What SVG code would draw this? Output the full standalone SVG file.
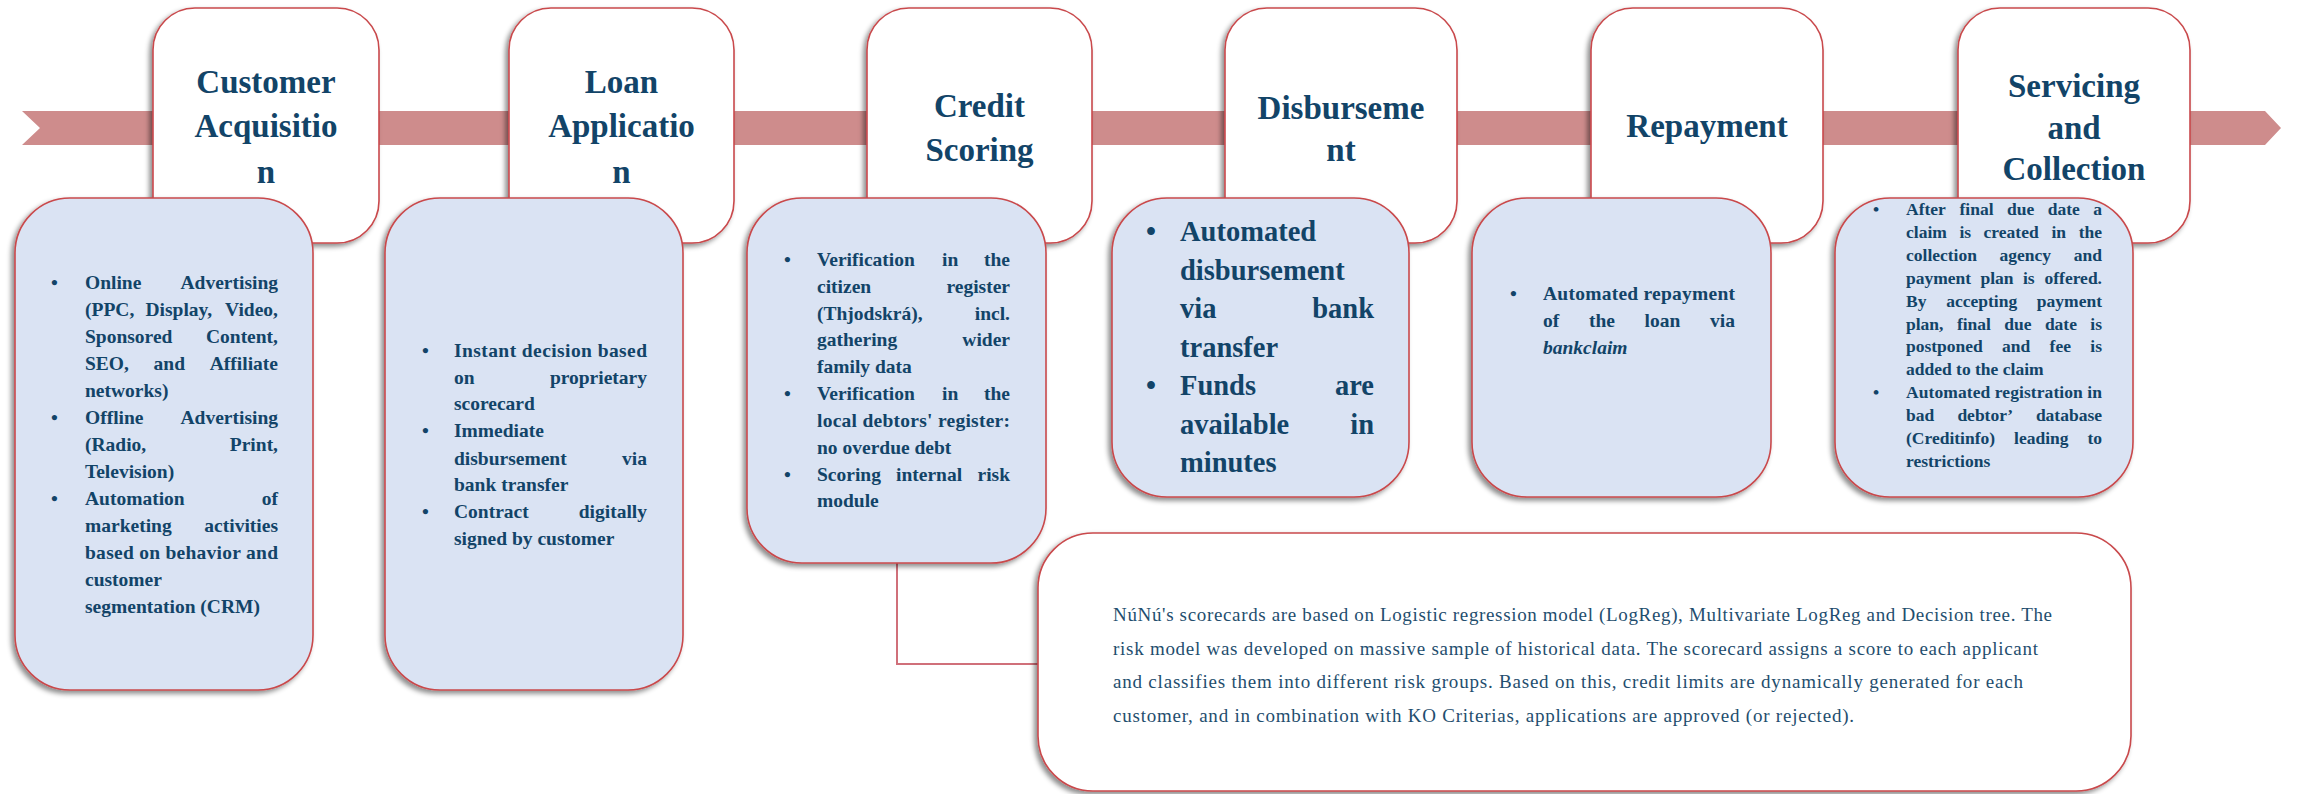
<svg xmlns="http://www.w3.org/2000/svg" width="2301" height="794" viewBox="0 0 2301 794">
<defs>
<filter id="sh" x="-10%" y="-10%" width="120%" height="120%">
<feDropShadow dx="-3" dy="3" stdDeviation="2.5" flood-color="#000" flood-opacity="0.45"/>
</filter>
</defs>
<style>
.top{fill:#fff;stroke:#C9494C;stroke-width:1.6;filter:url(#sh)}
.det{fill:#DAE3F3;stroke:#C9494C;stroke-width:1.6;filter:url(#sh)}
.title{font-family:"Liberation Serif","Times New Roman",serif;font-weight:bold;font-size:33px;fill:#124468;text-anchor:middle}
.b{font-family:"Liberation Serif","Times New Roman",serif;font-weight:bold;font-size:19.5px;fill:#124468}
.s6{font-size:17.5px}
.s4{font-size:28.5px}
.e{text-anchor:end}
.note{font-family:"Liberation Serif","Times New Roman",serif;font-size:19px;fill:#1F4E6E}
.conn{fill:none;stroke:#D0707A;stroke-width:2}
</style>
<g id="banner">
<polygon points="22,111 2265,111 2281,128 2265,145 22,145 40,128" fill="#CE8C8C"/>
</g>
<g id="stage-customer-acquisition">
<rect class="top" x="153" y="8" width="226" height="235" rx="42"/>
<text class="title" x="266" y="93">Customer</text>
<text class="title" x="266" y="137">Acquisitio</text>
<text class="title" x="266" y="183">n</text>
</g>
<g id="stage-loan-application">
<rect class="top" x="509" y="8" width="225" height="235" rx="42"/>
<text class="title" x="621.5" y="93">Loan</text>
<text class="title" x="621.5" y="137">Applicatio</text>
<text class="title" x="621.5" y="183">n</text>
</g>
<g id="stage-credit-scoring">
<rect class="top" x="867" y="8" width="225" height="235" rx="42"/>
<text class="title" x="979.5" y="117">Credit</text>
<text class="title" x="979.5" y="161">Scoring</text>
</g>
<g id="stage-disbursement">
<rect class="top" x="1225" y="8" width="232" height="235" rx="42"/>
<text class="title" x="1341" y="119">Disburseme</text>
<text class="title" x="1341" y="161">nt</text>
</g>
<g id="stage-repayment">
<rect class="top" x="1591" y="8" width="232" height="235" rx="42"/>
<text class="title" x="1707" y="137">Repayment</text>
</g>
<g id="stage-servicing-collection">
<rect class="top" x="1958" y="8" width="232" height="235" rx="42"/>
<text class="title" x="2074" y="97">Servicing</text>
<text class="title" x="2074" y="139">and</text>
<text class="title" x="2074" y="180">Collection</text>
</g>
<g id="connectors">
<polyline class="conn" points="897,563 897,664 1038,664"/>
</g>
<g id="detail-customer-acquisition">
<rect class="det" x="15" y="198" width="298" height="492" rx="55"/>
<g class="b">
<text x="51" y="289">•</text><text x="51" y="424">•</text><text x="51" y="505">•</text>
<text x="85" y="289">Online</text><text class="e" x="278" y="289">Advertising</text>
<text x="85" y="316">(PPC,</text><text x="145.5" y="316">Display,</text><text class="e" x="278" y="316">Video,</text>
<text x="85" y="343">Sponsored</text><text class="e" x="278" y="343">Content,</text>
<text x="85" y="370">SEO,</text><text x="153.6" y="370">and</text><text class="e" x="278" y="370">Affiliate</text>
<text x="85" y="397">networks)</text>
<text x="85" y="424">Offline</text><text class="e" x="278" y="424">Advertising</text>
<text x="85" y="451">(Radio,</text><text class="e" x="278" y="451">Print,</text>
<text x="85" y="478">Television)</text>
<text x="85" y="505">Automation</text><text class="e" x="278" y="505">of</text>
<text x="85" y="532">marketing</text><text class="e" x="278" y="532">activities</text>
<text x="85" y="559" textLength="193" lengthAdjust="spacing">based on behavior and</text>
<text x="85" y="586">customer</text>
<text x="85" y="613">segmentation (CRM)</text>
</g>
</g>
<g id="detail-loan-application">
<rect class="det" x="385" y="198" width="298" height="492" rx="55"/>
<g class="b">
<text x="422" y="357">•</text><text x="422" y="437">•</text><text x="422" y="518">•</text>
<text x="454" y="357" textLength="193" lengthAdjust="spacing">Instant decision based</text>
<text x="454" y="384">on</text><text class="e" x="647" y="384">proprietary</text>
<text x="454" y="410">scorecard</text>
<text x="454" y="437">Immediate</text>
<text x="454" y="465">disbursement</text><text class="e" x="647" y="465">via</text>
<text x="454" y="491">bank transfer</text>
<text x="454" y="518">Contract</text><text class="e" x="647" y="518">digitally</text>
<text x="454" y="545">signed by customer</text>
</g>
</g>
<g id="detail-credit-scoring">
<rect class="det" x="747" y="198" width="299" height="365" rx="55"/>
<g class="b">
<text x="784" y="266">•</text><text x="784" y="400">•</text><text x="784" y="481">•</text>
<text x="817" y="266">Verification</text><text x="942" y="266">in</text><text class="e" x="1010" y="266">the</text>
<text x="817" y="293">citizen</text><text class="e" x="1010" y="293">register</text>
<text x="817" y="320">(Thjodskrá),</text><text class="e" x="1010" y="320">incl.</text>
<text x="817" y="346">gathering</text><text class="e" x="1010" y="346">wider</text>
<text x="817" y="373">family data</text>
<text x="817" y="400">Verification</text><text x="942" y="400">in</text><text class="e" x="1010" y="400">the</text>
<text x="817" y="427" textLength="193" lengthAdjust="spacing">local debtors' register:</text>
<text x="817" y="454">no overdue debt</text>
<text x="817" y="481">Scoring</text><text x="896" y="481">internal</text><text class="e" x="1010" y="481">risk</text>
<text x="817" y="507">module</text>
</g>
</g>
<g id="detail-disbursement">
<rect class="det" x="1112" y="198" width="297" height="299" rx="55"/>
<g class="b s4">
<text x="1146" y="241">•</text><text x="1146" y="395">•</text>
<text x="1180" y="241">Automated</text>
<text x="1180" y="280">disbursement</text>
<text x="1180" y="318">via</text><text class="e" x="1374" y="318">bank</text>
<text x="1180" y="357">transfer</text>
<text x="1180" y="395">Funds</text><text class="e" x="1374" y="395">are</text>
<text x="1180" y="434">available</text><text class="e" x="1374" y="434">in</text>
<text x="1180" y="472">minutes</text>
</g>
</g>
<g id="detail-repayment">
<rect class="det" x="1472" y="198" width="299" height="299" rx="55"/>
<g class="b">
<text x="1510" y="300">•</text>
<text x="1543" y="300" textLength="192" lengthAdjust="spacing">Automated repayment</text>
<text x="1543" y="327">of</text><text x="1588.9" y="327">the</text><text x="1644.6" y="327">loan</text><text class="e" x="1735" y="327">via</text>
<text x="1543" y="354" font-style="italic">bankclaim</text>
</g>
</g>
<g id="detail-servicing-collection">
<rect class="det" x="1835" y="198" width="298" height="299" rx="55"/>
<g class="b s6">
<text x="1873" y="215">•</text><text x="1873" y="398">•</text>
<text x="1906" y="215">After</text><text x="1959.5" y="215">final</text><text x="2007" y="215">due</text><text x="2047.7" y="215">date</text><text class="e" x="2102" y="215">a</text>
<text x="1906" y="238">claim</text><text x="1959.4" y="238">is</text><text x="1983.6" y="238">created</text><text x="2051.5" y="238">in</text><text class="e" x="2102" y="238">the</text>
<text x="1906" y="261">collection</text><text x="1999.6" y="261">agency</text><text class="e" x="2102" y="261">and</text>
<text x="1906" y="284">payment</text><text x="1980.5" y="284">plan</text><text x="2023" y="284">is</text><text class="e" x="2102" y="284">offered.</text>
<text x="1906" y="307">By</text><text x="1946.2" y="307">accepting</text><text class="e" x="2102" y="307">payment</text>
<text x="1906" y="330">plan,</text><text x="1956.9" y="330">final</text><text x="2004.3" y="330">due</text><text x="2044.9" y="330">date</text><text class="e" x="2102" y="330">is</text>
<text x="1906" y="352">postponed</text><text x="2002.1" y="352">and</text><text x="2049.6" y="352">fee</text><text class="e" x="2102" y="352">is</text>
<text x="1906" y="375">added to the claim</text>
<text x="1906" y="398" textLength="196" lengthAdjust="spacing">Automated registration in</text>
<text x="1906" y="421">bad</text><text x="1957.4" y="421">debtor’</text><text class="e" x="2102" y="421">database</text>
<text x="1906" y="444">(Creditinfo)</text><text x="2014.1" y="444">leading</text><text class="e" x="2102" y="444">to</text>
<text x="1906" y="467">restrictions</text>
</g>
</g>
<g id="note-scorecards">
<rect class="top" x="1038" y="533" width="1093" height="258" rx="55"/>
<g class="note">
<text x="1113" y="621" textLength="939" lengthAdjust="spacing">NúNú's  scorecards  are based on Logistic regression model (LogReg), Multivariate  LogReg and  Decision tree. The</text>
<text x="1113" y="655" textLength="925" lengthAdjust="spacing">risk model was developed on massive sample of historical data.  The scorecard  assigns  a score to each applicant</text>
<text x="1113" y="688" textLength="910" lengthAdjust="spacing">and  classifies them into different risk groups.  Based on this, credit limits are dynamically  generated for each</text>
<text x="1113" y="722" textLength="741" lengthAdjust="spacing">customer,  and  in combination  with KO Criterias, applications  are approved  (or rejected).</text>
</g>
</g>
</svg>
